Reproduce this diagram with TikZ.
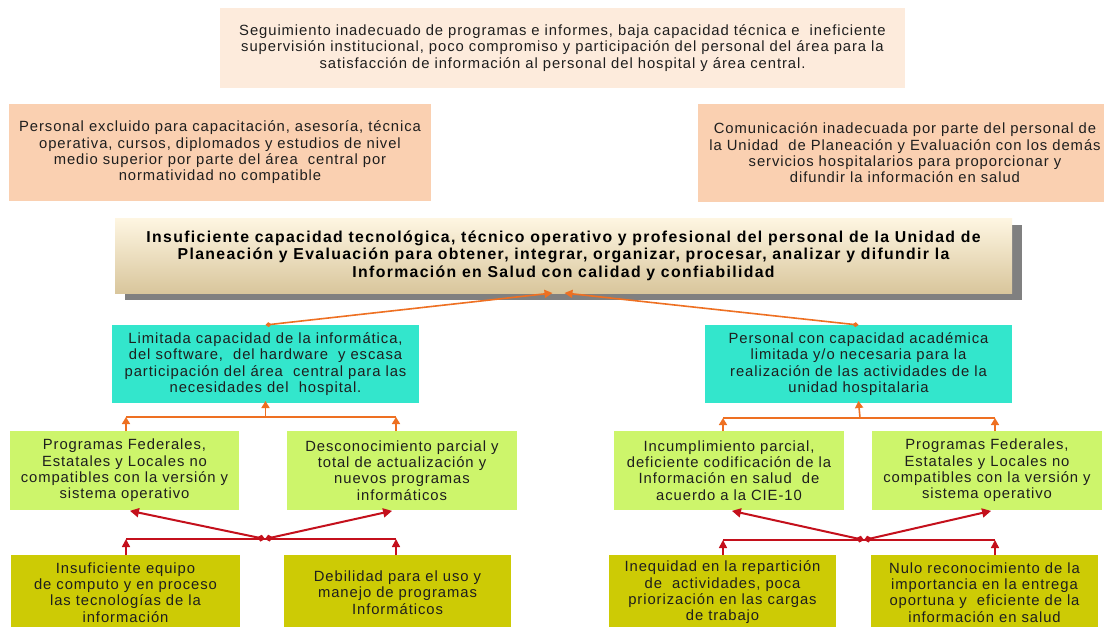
\documentclass[tikz,border=0pt]{standalone}
\usepackage{fontspec}
\setmainfont{Liberation Sans}
\newfontfamily\boxfont{Liberation Sans}[LetterSpace=6.3]
\newfontfamily\headfont{Liberation Sans}[LetterSpace=8.5]
\usetikzlibrary{arrows.meta,shadows,backgrounds}

\definecolor{peachlight}{HTML}{FDEBDC}
\definecolor{peach}{HTML}{FAD0B1}
\definecolor{creamtop}{HTML}{FEF6E2}
\definecolor{tanbottom}{HTML}{D9C69C}
\definecolor{shadowgray}{HTML}{808080}
\definecolor{turq}{HTML}{33E6CC}
\definecolor{limeg}{HTML}{CDF56B}
\definecolor{oliveg}{HTML}{CDCB05}
\definecolor{txt}{HTML}{1E1E1E}
\definecolor{framered}{HTML}{B8323F}
\definecolor{orangec}{HTML}{EE7022}
\definecolor{redc}{HTML}{C4101C}

\tikzset{
  box/.style={inner sep=0pt, outer sep=0pt, align=center, text=txt,
    font=\boxfont\fontsize{14.8}{16.3}\selectfont},
  topbox/.style={box, fill=peachlight},
  sidebox/.style={box, fill=peach},
  mainbox/.style={box, top color=creamtop, bottom color=tanbottom, text=black,
    font=\headfont\bfseries\fontsize{15.8}{17.5}\selectfont,
    general shadow={fill=shadowgray, shadow xshift=10pt, shadow yshift=-7pt}},
  turqbox/.style={box, fill=turq},
  limebox/.style={box, fill=limeg},
  olivebox/.style={box, fill=oliveg},
  frame/.style={draw=framered, line width=1.2pt},
  orangeline/.style={draw=orangec, line width=1.6pt},
  oarrow/.style={orangeline, -{Triangle[length=7pt,width=8pt]}},
  causearrow/.style={orangeline, {Diamond[length=6pt,width=5pt]}-{Triangle[length=8pt,width=8pt]}},
  redline/.style={draw=redc, line width=1.3pt},
  rarrow/.style={draw=redc, line width=1.6pt, -{Triangle[length=8pt,width=8pt]}},
  fanarrow/.style={draw=redc, line width=2pt, {Diamond[length=8pt,width=7pt]}-{Triangle[length=9pt,width=9pt]}, shorten >=4pt},
}

\begin{document}
\begin{tikzpicture}[x=1pt, y=-1pt]
\path[use as bounding box] (0,0) rectangle (1104,627);
\clip (0,0) rectangle (1104,627);
\fill[white] (0,0) rectangle (1104,627);

% column positions of the small connector stems
\coordinate (c1) at (126,0);
\coordinate (c2) at (396,0);
\coordinate (c3) at (723,0);
\coordinate (c4) at (995,0);
\coordinate (lx) at (70,0);
\coordinate (rx) at (1069,0);

% upper effects
\node[topbox, minimum width=685, minimum height=80] (top) at (562.5,48)
  {Seguimiento inadecuado de programas e informes, baja capacidad técnica e~ ineficiente\\
   supervisión institucional, poco compromiso y participación del personal del área para la\\
   satisfacción de información al personal del hospital y área central.};
\node[sidebox, minimum width=422, minimum height=97] (lp) at (220,152.5)
  {Personal excluido para capacitación, asesoría, técnica\\
   operativa, cursos, diplomados y estudios de nivel\\
   medio superior por parte del área~ central por\\
   normatividad no compatible};
\node[sidebox, minimum width=414, minimum height=98] (rp) at (905,153)
  {Comunicación inadecuada por parte del personal de\\
   la Unidad~ de Planeación y Evaluación con los demás\\
   servicios hospitalarios para proporcionar y\\
   difundir la información en salud};

% central problem
\node[mainbox, minimum width=897, minimum height=75] (main) at (563.5,255.5)
  {Insuficiente capacidad tecnológica, técnico operativo y profesional del personal de la Unidad de\\
   Planeación y Evaluación para obtener, integrar, organizar, procesar, analizar y difundir la\\
   Información en Salud con calidad y confiabilidad};

% direct causes
\node[turqbox, minimum width=307, minimum height=78] (tl) at (265.5,364)
  {Limitada capacidad de la informática,\\
   del software,~ del hardware~ y escasa\\
   participación del área~ central para las\\
   necesidades del~ hospital.};
\node[turqbox, minimum width=307, minimum height=78] (tr) at (858.5,364)
  {Personal con capacidad académica\\
   limitada y/o necesaria para la\\
   realización de las actividades de la\\
   unidad hospitalaria};

% secondary causes
\node[limebox, minimum width=229, minimum height=79] (g1) at (124.5,470.5)
  {Programas Federales,\\ Estatales y Locales no\\ compatibles con la versión y\\ sistema operativo};
\node[limebox, minimum width=230, minimum height=79] (g2) at (402,470.5)
  {Desconocimiento parcial y\\ total de actualización y\\ nuevos programas\\ informáticos};
\node[limebox, minimum width=230, minimum height=79] (g3) at (729,470.5)
  {Incumplimiento parcial,\\ deficiente codificación de la\\ Información en salud~ de\\ acuerdo a la CIE-10};
\node[limebox, minimum width=230, minimum height=79] (g4) at (987,470.5)
  {Programas Federales,\\ Estatales y Locales no\\ compatibles con la versión y\\ sistema operativo};

% root causes
\node[olivebox, minimum width=229, minimum height=75] (o1) at (125.5,592.5)
  {Insuficiente equipo\\ de computo y en proceso\\ las tecnologías de la\\ información};
\node[olivebox, minimum width=227, minimum height=75] (o2) at (397.5,592.5)
  {Debilidad para el uso y\\ manejo de programas\\ Informáticos};
\node[olivebox, minimum width=227, minimum height=75] (o3) at (722.5,592.5)
  {Inequidad en la repartición\\ de~ actividades, poca\\ priorización en las cargas\\ de trabajo};
\node[olivebox, minimum width=227, minimum height=75] (o4) at (984.5,592.5)
  {Nulo reconocimiento de la\\ importancia en la entrega\\ oportuna y~ eficiente de la\\ información en salud};

% frame joining the upper effects with the central problem
\begin{pgfonlayer}{background}
  \draw[frame] (top.west) -| (lx |- lp.north);
  \draw[frame] (lx |- lp.south) |- ([yshift=-2.5pt]main.west);
  \draw[frame] (top.east) -| (rx |- rp.north);
  \draw[frame] (rx |- rp.south) |- ([yshift=-2.5pt]main.east);
\end{pgfonlayer}

% direct causes to central problem
\draw[causearrow] (tl.north) -- ([xshift=-11pt]main.south);
\draw[causearrow] (tr.north) -- ([xshift=1pt]main.south);

% junctions
\coordinate (jtl) at (265.5,417);
\coordinate (jtr) at (860,418);
\coordinate (jfl) at (265,539);
\coordinate (jfr) at (864,540);

% secondary causes to direct causes
\draw[orangeline] (c1 |- jtl) -- (c2 |- jtl);
\draw[oarrow] (c1 |- g1.north) -- (c1 |- jtl);
\draw[oarrow] (c2 |- g2.north) -- (c2 |- jtl);
\draw[oarrow] (jtl) -- ([yshift=2pt]tl.south);
\draw[orangeline] (c3 |- jtr) -- (c4 |- jtr);
\draw[oarrow] (c3 |- g3.north) -- (c3 |- jtr);
\draw[oarrow] (c4 |- g4.north) -- (c4 |- jtr);
\draw[oarrow] (jtr) -- ([yshift=2pt]tr.south);

% root causes to secondary causes
\draw[redline] (c1 |- jfl) -- (c2 |- jfl);
\draw[rarrow] (c1 |- o1.north) -- (c1 |- jfl);
\draw[rarrow] (c2 |- o2.north) -- (c2 |- jfl);
\draw[fanarrow] (jfl) -- (c1 |- g1.south);
\draw[fanarrow] (jfl) -- (c2 |- g2.south);
\draw[redline] (c3 |- jfr) -- (c4 |- jfr);
\draw[rarrow] (c3 |- o3.north) -- (c3 |- jfr);
\draw[rarrow] (c4 |- o4.north) -- (c4 |- jfr);
\draw[fanarrow] (jfr) -- ([xshift=5pt]c3 |- g3.south);
\draw[fanarrow] (jfr) -- (c4 |- g4.south);
\end{tikzpicture}
\end{document}
